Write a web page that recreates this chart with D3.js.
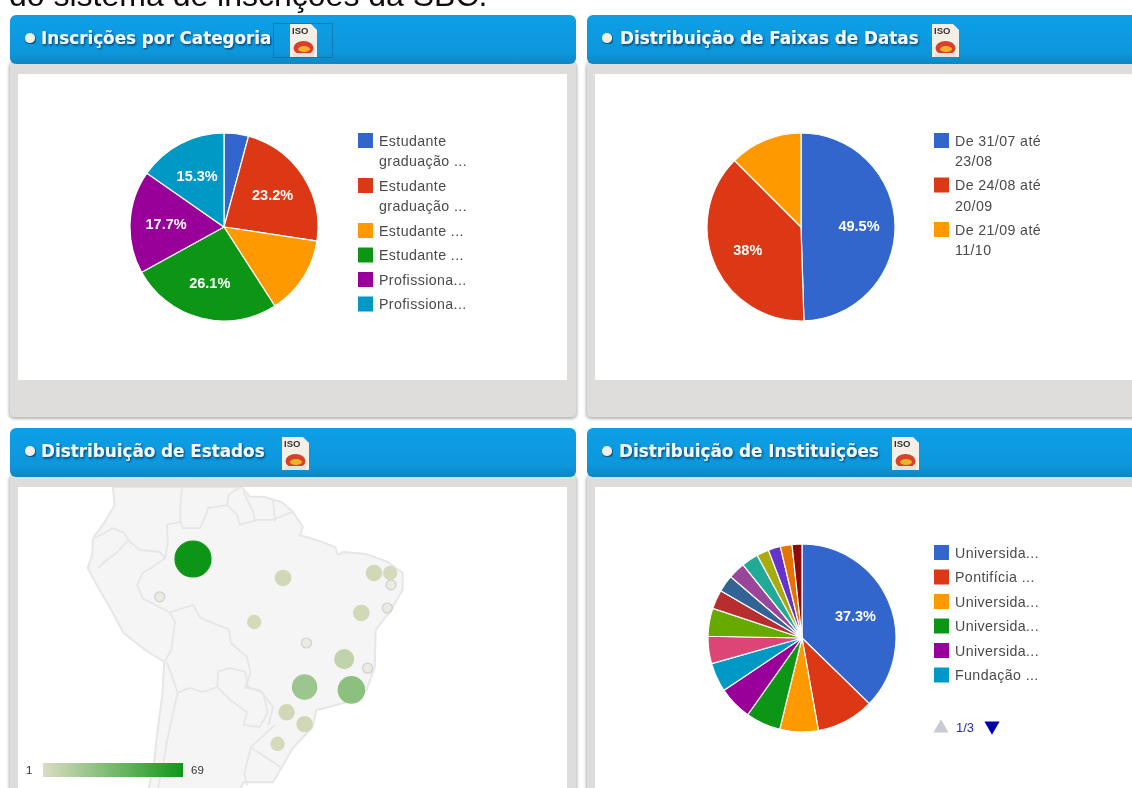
<!DOCTYPE html>
<html>
<head>
<meta charset="utf-8">
<script src="https://cdn.jsdelivr.net/npm/d3@7/dist/d3.min.js"></script>
<style>
  html, body { margin: 0; padding: 0; background: #fff; overflow: hidden; }
  svg { display: block; font-family: "Liberation Sans", Arial, sans-serif; }
</style>
</head>
<body>
<svg width="1132" height="788"></svg>
<script>
const googleColors = ["#3366cc", "#dc3912", "#ff9900", "#109618", "#990099", "#0099c6", "#dd4477", "#66aa00",
  "#b82e2e", "#316395", "#994499", "#22aa99", "#aaaa11", "#6633cc", "#e67300", "#8b0707"];

// Inscrições por Categoria
const categoryValues = [4.2, 23.2, 13.5, 26.1, 17.7, 15.3];
const categoryLabels = [["Estudante", "graduação ..."], ["Estudante", "graduação ..."], ["Estudante ..."],
  ["Estudante ..."], ["Profissiona..."], ["Profissiona..."]];

// Distribuição de Faixas de Datas
const dateValues = [49.5, 38, 12.5];
const dateLabels = [["De 31/07 até", "23/08"], ["De 24/08 até", "20/09"], ["De 21/09 até", "11/10"]];

// Distribuição de Instituições
const institutionValues = [37.3, 9.9, 6.6, 6, 5.8, 5, 4.7, 4.8, 3.3, 2.9, 2.9, 2.9, 2.1, 2.1, 2, 1.7];
const institutionLabels = [["Universida..."], ["Pontifícia ..."], ["Universida..."], ["Universida..."],
  ["Universida..."], ["Fundação ..."]];

const panelTitles = ["Inscrições por Categoria", "Distribuição de Faixas de Datas",
  "Distribuição de Estados", "Distribuição de Instituições"];

// Distribuição de Estados: positions, in map grid units (not true lon/lat)
const stateNames = ["AM", "PA", "RO", "MT", "CE", "RN", "PB", "SE", "BA", "DF", "MG", "ES", "SP", "RJ", "PR", "SC", "RS"];
const stateGridX = [-60, -50, -63.7, -53.2, -39.9, -38.1, -38, -38.4, -41.3, -47.4, -43.2, -40.6, -47.6, -42.4, -49.6, -47.6, -50.6];
const stateGridY = [-3, -5.7, -8.4, -12, -5, -5, -6.7, -10, -10.7, -15, -17.3, -18.6, -21.3, -21.7, -24.9, -26.6, -29.4];
const stateValues = [69, 5, 1, 3, 5, 3, 1, 1, 5, 1, 10, 1, 22, 28, 5, 5, 3];

const landOutline = [[-68.9,7.3],[-68.7,4.7],[-69.8,2.3],[-71.1,0],[-71.2,-2.4],[-71.7,-4.3],[-70.7,-6.7],[-69.2,-10],
  [-67.7,-13.6],[-65.3,-16],[-63.2,-17.7],[-63.4,-22.4],[-63.9,-27.1],[-64.4,-32.9],[-65,-36],[-54.8,-36],[-54.4,-34.9],
  [-51.1,-34.9],[-50.3,-33.1],[-48.9,-30],[-46.7,-27],[-46.3,-24.6],[-42.7,-23.4],[-40.7,-21.7],[-39.8,-18.4],[-39.7,-13.1],
  [-38,-10.3],[-36.7,-7.4],[-36.7,-5],[-38.4,-3.4],[-40.7,-2.3],[-43.3,-2],[-43.9,-2.4],[-44.2,-1.3],[-46.2,-0.3],[-48.1,0.4],
  [-47.8,1.6],[-48.9,3.7],[-50.1,5.1],[-52.2,5.9],[-53.7,5.9],[-54.6,7.3]];
const borderLines = [
  [[-70.9,0],[-68.9,1.4],[-67.6,0.7],[-67.2,-0.3],[-68.4,-2],[-69.8,-3.4],[-70.6,-4.3]],
  [[-67.2,-0.3],[-65.9,-1.7],[-63.7,-2],[-63.1,-2.9],[-64.2,-3.9],[-65.6,-5],[-66.2,-6.7],[-65.6,-8.6],[-63.7,-9.9],[-62.6,-10.6],
   [-60,-9.6],[-59.2,-11.4],[-56,-13.1],[-55.8,-15],[-54,-17],[-53.6,-19.3],[-54.2,-21.4],[-52.6,-21.7],[-51.1,-24.1],[-51.6,-26.7]],
  [[-50.9,-26.7],[-53.6,-29.9],[-50.3,-32.7]],
  [[-53.6,-30],[-54.3,-33.6],[-54,-35.3]],
  [[-63.1,-2.9],[-62.8,-0.6],[-62.9,1.9],[-61.4,2.3],[-61.1,1.4],[-59.2,1.4],[-58.7,2.9],[-58.3,4.3],[-56.2,4.7],[-55.1,3.3],
   [-54.8,1.9],[-52.9,2.6],[-51.1,2.6],[-49.8,3.3],[-48.9,3.7]],
  [[-61.4,2.3],[-61.4,4.7],[-61.2,7.3]],
  [[-56.2,4.7],[-56.1,6.1],[-54.8,7.3]],
  [[-54.4,6.6],[-53.3,3.7],[-53.1,2.3]],
  [[-51.1,5.4],[-50.9,2.3]],
  [[-62.6,-10.6],[-62,-12],[-62.4,-16],[-63.2,-17.7]],
  [[-62.9,-17.7],[-61.7,-22.1],[-60.3,-21.4],[-59,-22],[-57.3,-21.3]],
  [[-57.3,-21.3],[-57.2,-19.1],[-55.9,-18.6],[-54.2,-19.1],[-53.9,-21.3],[-52.2,-22.1],[-51.7,-25],[-52.6,-27],[-54.4,-26.7],
   [-54,-24.9],[-55.9,-23.1],[-57.3,-21.3]],
  [[-61.7,-22.1],[-62.2,-24.9],[-62.9,-29.1],[-63.4,-32.9],[-63.9,-35.7]]
];

const svg = d3.select("svg");
const defs = svg.append("defs");

const headerGrad = defs.append("linearGradient").attr("id", "headerGrad").attr("x2", 0).attr("y2", 1);
headerGrad.append("stop").attr("offset", 0).attr("stop-color", "#0a9fe6");
headerGrad.append("stop").attr("offset", 0.75).attr("stop-color", "#0a97dc");
headerGrad.append("stop").attr("offset", 1).attr("stop-color", "#1287c2");

defs.append("filter").attr("id", "soft").append("feGaussianBlur").attr("stdDeviation", 0.6);
defs.append("filter").attr("id", "panelShadow").append("feGaussianBlur").attr("stdDeviation", 1.6);
const titleShadow = defs.append("filter").attr("id", "titleShadow");
titleShadow.append("feDropShadow").attr("dx", 1).attr("dy", 1.5).attr("stdDeviation", 0.8).attr("flood-color", "#05406a");

defs.append("clipPath").attr("id", "mapClip").append("rect")
    .attr("x", 18).attr("y", 487).attr("width", 549).attr("height", 301);

const page = svg.append("g").attr("filter", "url(#soft)");

page.append("text").attr("x", 9).attr("y", 6).attr("font-size", 32).attr("fill", "#111")
    .text("do sistema de inscrições da SBC.");

// panels
const panels = [
  {x: 10, y: 15, right: 576, bottom: 418, innerBottom: 380},
  {x: 587, y: 15, right: 1150, bottom: 418, innerBottom: 380},
  {x: 10, y: 428, right: 576, bottom: 800, innerBottom: 800},
  {x: 587, y: 428, right: 1150, bottom: 800, innerBottom: 800}
];
const titleX = [41, 620, 41, 619];
const iconX = [290, 932, 282, 892];

panels.forEach((p, i) => {
  const g = page.append("g");
  g.append("rect").attr("x", p.x - 1).attr("y", p.y + 47).attr("width", p.right - p.x + 2).attr("height", p.bottom - p.y - 46)
      .attr("rx", 5).attr("fill", "#b4b4b4").attr("filter", "url(#panelShadow)");
  g.append("rect").attr("x", p.x).attr("y", p.y + 45).attr("width", p.right - p.x).attr("height", p.bottom - p.y - 46)
      .attr("rx", 4).attr("fill", "#dedddc");
  g.append("rect").attr("x", p.x + 8).attr("y", p.y + 59).attr("width", p.right - p.x - 17)
      .attr("height", p.innerBottom - p.y - 59).attr("fill", "#fff");
  g.append("rect").attr("x", p.x).attr("y", p.y).attr("width", p.right - p.x).attr("height", 49)
      .attr("rx", 6).attr("fill", "url(#headerGrad)");
  g.append("circle").attr("cx", p.x + 20).attr("cy", p.y + 23).attr("r", 5).attr("fill", "#f3efe6")
      .attr("filter", "url(#titleShadow)");
  g.append("text").attr("x", titleX[i]).attr("y", p.y + 29).attr("font-family", "DejaVu Sans").attr("font-size", 16.8)
      .attr("font-weight", "bold").attr("fill", "#f4f8fb").attr("filter", "url(#titleShadow)").text(panelTitles[i]);

  // iso export icon
  const ic = g.append("g").attr("transform", `translate(${iconX[i]},${p.y + 9})`);
  ic.append("path").attr("d", "M0,0H21L27,6V33H0Z").attr("fill", "#f4efe6");
  ic.append("text").attr("x", 2).attr("y", 10).attr("font-size", 9.5).attr("font-weight", "bold").attr("fill", "#333").text("ISO");
  ic.append("ellipse").attr("cx", 13.5).attr("cy", 24).attr("rx", 10).attr("ry", 7).attr("fill", "#d8402a");
  ic.append("ellipse").attr("cx", 14).attr("cy", 25).attr("rx", 6).attr("ry", 3).attr("fill", "#e5b52a");
  ic.append("path").attr("d", "M3,29H24V33H3Z").attr("fill", "#e6e2d8");
});

page.append("rect").attr("x", 273.5).attr("y", 23.5).attr("width", 59).attr("height", 34)
    .attr("fill", "none").attr("stroke", "#0a5f8c").attr("stroke-dasharray", "1,1");

// pie + legend helper
function drawPie(values, cx, cy, radius, minLabel) {
  const pie = d3.pie().sort(null).value(d => d);
  const arc = d3.arc().innerRadius(0).outerRadius(radius);
  const labelArc = d3.arc().innerRadius(58).outerRadius(58);
  const total = d3.sum(values);
  const g = page.append("g").attr("transform", `translate(${cx},${cy})`);
  const arcs = pie(values);

  g.selectAll("path").data(arcs).join("path")
      .attr("d", arc)
      .attr("fill", (d, i) => googleColors[i])
      .attr("stroke", "#fff")
      .attr("stroke-width", 1.2);

  g.selectAll("text").data(arcs.filter(d => d.value / total * 100 >= minLabel)).join("text")
      .attr("transform", d => `translate(${labelArc.centroid(d)})`)
      .attr("text-anchor", "middle")
      .attr("dy", "0.35em")
      .attr("font-size", 14.5)
      .attr("font-weight", "bold")
      .attr("fill", "#fff")
      .text(d => `${d.value}%`);
}

function drawLegend(labels, x, y, rowHeight, lineHeight) {
  let top = y;
  labels.forEach((lines, i) => {
    const g = page.append("g").attr("transform", `translate(${x},${top})`);
    g.append("rect").attr("width", 15).attr("height", 15).attr("fill", googleColors[i]);
    g.selectAll("text").data(lines).join("text")
        .attr("x", 21)
        .attr("y", (d, j) => 12.5 + j * lineHeight)
        .attr("font-size", 14.2)
        .attr("letter-spacing", 0.4)
        .attr("fill", "#4a4a4a")
        .text(d => d);
    top += rowHeight + (lines.length - 1) * lineHeight;
  });
}

drawPie(categoryValues, 224, 227, 94, 15);
drawLegend(categoryLabels, 358, 133, 24.5, 20.5);

drawPie(dateValues, 801, 227, 94, 15);
drawLegend(dateLabels, 934, 133, 24, 20.5);

drawPie(institutionValues, 802, 638, 94, 15);
drawLegend(institutionLabels, 934, 545, 24.5, 20);

// pager under the last legend
const pagerTri = d3.symbol().type(d3.symbolTriangle).size(100);
page.append("path").attr("d", pagerTri).attr("transform", "translate(941,728)").attr("fill", "#c8ccd4");
page.append("text").attr("x", 956).attr("y", 732).attr("font-size", 13).attr("fill", "#2a2aa8").text("1/3");
page.append("path").attr("d", pagerTri).attr("transform", "translate(992,726) rotate(180)").attr("fill", "#0000a8");

// map
const mapX = d3.scaleLinear().domain([-60, -50]).range([193, 283]);
const mapY = d3.scaleLinear().domain([-3, -10]).range([559, 608]);
const mapLine = d3.line().x(d => mapX(d[0])).y(d => mapY(d[1]));
const mapG = page.append("g").attr("clip-path", "url(#mapClip)");

mapG.append("path").attr("d", mapLine(landOutline) + "Z")
    .attr("fill", "#f5f5f5").attr("stroke", "#e6e6e6").attr("stroke-width", 2).attr("stroke-linejoin", "round");
mapG.selectAll("path.border").data(borderLines).join("path")
    .attr("class", "border")
    .attr("d", mapLine)
    .attr("fill", "none")
    .attr("stroke", "#e6e6e6")
    .attr("stroke-width", 1.8)
    .attr("stroke-linejoin", "round");

const stateColor = d3.scaleLinear().domain([1, 69]).range(["#dcdcc2", "#109618"]);
const stateRadius = d3.scalePow().exponent(0.4).domain([1, 69]).range([5, 18]);

mapG.selectAll("circle").data(stateNames).join("circle")
    .attr("cx", (d, i) => mapX(stateGridX[i]))
    .attr("cy", (d, i) => mapY(stateGridY[i]))
    .attr("r", (d, i) => stateRadius(stateValues[i]))
    .attr("fill", (d, i) => stateColor(stateValues[i]))
    .attr("stroke", (d, i) => stateValues[i] > 1 ? stateColor(stateValues[i]) : "#cfcfcf")
    .attr("stroke-width", 1.2)
    .attr("fill-opacity", (d, i) => stateValues[i] > 1 ? 1 : 0.4);

// colour scale legend
const stateGrad = defs.append("linearGradient").attr("id", "stateGrad");
stateGrad.append("stop").attr("offset", 0).attr("stop-color", stateColor(1));
stateGrad.append("stop").attr("offset", 1).attr("stop-color", stateColor(69));
const legendX = d3.scaleLinear().domain([1, 69]).range([43, 183]);
page.append("rect").attr("x", legendX(1)).attr("y", 763).attr("width", legendX(69) - legendX(1)).attr("height", 14)
    .attr("fill", "url(#stateGrad)");
page.append("text").attr("x", legendX(1) - 17).attr("y", 774).attr("font-size", 11.5).attr("fill", "#333").text("1");
page.append("text").attr("x", legendX(69) + 8).attr("y", 774).attr("font-size", 11.5).attr("fill", "#333").text("69");
</script>
</body>
</html>
